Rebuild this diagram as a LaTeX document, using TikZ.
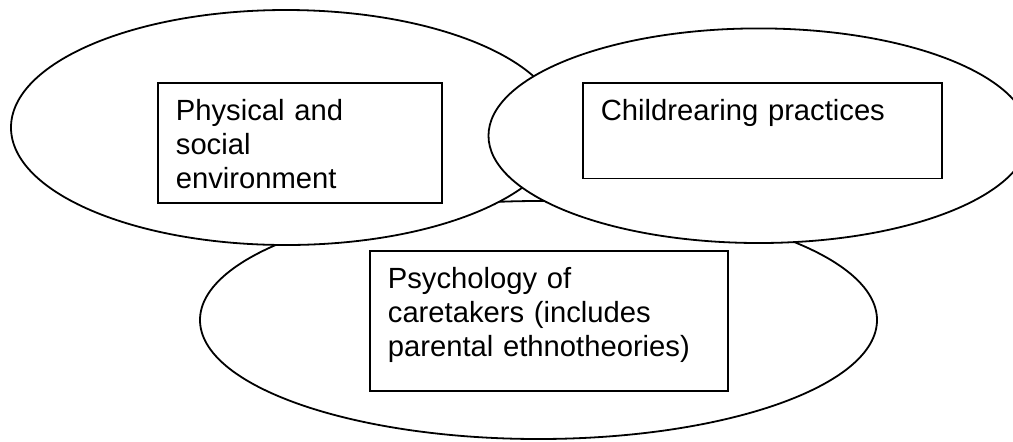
\documentclass[tikz,border=0pt]{standalone}
\usepackage{fontspec}
\setmainfont{Liberation Sans}
\usetikzlibrary{shapes, positioning}

\begin{document}
\begin{tikzpicture}[x=0.5pt, y=-0.5pt, line width=0.9pt,
  oval/.style = {ellipse, draw, fill=white, inner sep=0pt},
  textbox/.style = {rectangle, draw, fill=white, anchor=north west,
    inner xsep=9pt, inner ysep=0pt, align=left, text width=#1,
    text height=19pt, font=\fontsize{14.6}{16.9}\selectfont}]
      \clip (0,0) rectangle (1013,441);
      
      \node[oval, minimum width=338.5pt, minimum height=119pt] (psy) at (538.5,320) {};
      
      \node[oval, minimum width=275pt, minimum height=117.5pt] (env) at (286,127.5) {};
      
      \node[oval, minimum width=270.3pt, minimum height=107.3pt] (child) at (758.8,135.7) {};
      
      \node[textbox=124pt, text depth=41pt] (envbox) at (157,82)
      {Physical and\\social\\environment};
      
      \node[textbox=161.5pt, text depth=28.75pt] (childbox) at (582,82)
      {Childrearing practices};
      
      \node[textbox=161pt, text depth=50.85pt] (psybox) at (369,250)
      {Psychology of\\caretakers (includes\\parental ethnotheories)};
    \end{tikzpicture}
\end{document}
